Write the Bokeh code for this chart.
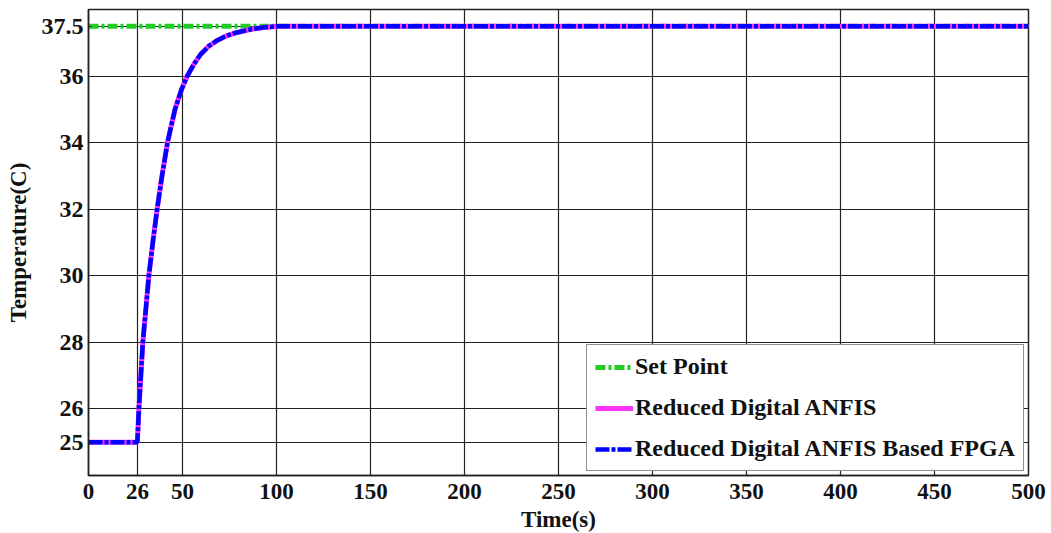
from bokeh.plotting import figure
from bokeh.models import Range1d, FixedTicker, Legend, LegendItem
from bokeh.embed import file_html
from bokeh.resources import INLINE

# ---- data ----
time_s = [0, 26, 26.8, 28.9, 32.1, 34.2, 36.5, 39.1, 42, 46, 49.5, 52.5, 56, 59.6, 64, 68.4, 73, 79, 86, 93, 101, 500]
temp_anfis = [25, 25, 26, 28, 30, 31, 32, 33, 34, 35, 35.6, 36, 36.35, 36.65, 36.9, 37.07, 37.2, 37.31, 37.4, 37.46, 37.5, 37.5]
temp_fpga = [25, 25, 26, 28, 30, 31, 32, 33, 34, 35, 35.6, 36, 36.35, 36.65, 36.9, 37.07, 37.2, 37.31, 37.4, 37.46, 37.5, 37.5]
setpoint_t = [0, 500]
setpoint_v = [37.5, 37.5]

x_ticks = [0, 26, 50, 100, 150, 200, 250, 300, 350, 400, 450, 500]
y_ticks = [25, 26, 28, 30, 32, 34, 36, 37.5]
y_tick_labels = ["25", "26", "28", "30", "32", "34", "36", "37.5"]
x_tick_labels = [str(v) for v in x_ticks]
x_title = "Time(s)"
y_title = "Temperature(C)"

FONT = "Liberation Serif"

p = figure(frame_width=940, frame_height=466, output_backend="svg", toolbar_location=None,
           x_range=Range1d(0, 500), y_range=Range1d(24, 38))
p.min_border_left = 88
p.min_border_right = 23
p.min_border_top = 9
p.min_border_bottom = 58
p.background_fill_color = "white"
p.border_fill_color = "white"
p.outline_line_color = "#222222"
p.outline_line_width = 1.5

for ax, ticks, labels in ((p.xaxis[0], x_ticks, x_tick_labels), (p.yaxis[0], y_ticks, y_tick_labels)):
    ax.ticker = FixedTicker(ticks=ticks)
    ax.major_label_overrides = {t: l for t, l in zip(ticks, labels)}
    ax.major_label_text_font = FONT
    ax.major_label_text_font_style = "bold"
    ax.major_label_text_font_size = "23px"
    ax.major_label_text_color = "#111111"
    ax.axis_label_text_font = FONT
    ax.axis_label_text_font_style = "bold"
    ax.axis_label_text_font_size = "23px"
    ax.axis_label_text_color = "#111111"
    ax.axis_line_color = "#222222"
    ax.axis_line_width = 1.5
    ax.major_tick_in = 3
    ax.major_tick_out = 0
    ax.minor_tick_line_color = None
    ax.major_tick_line_color = "#222222"

p.yaxis[0].major_label_text_font_size = "24px"
p.xaxis[0].axis_label = x_title
p.yaxis[0].axis_label = y_title
p.xaxis[0].major_label_standoff = 8
p.yaxis[0].major_label_standoff = 5
p.xaxis[0].axis_label_standoff = 5
p.yaxis[0].axis_label_standoff = 8

p.xgrid[0].ticker = FixedTicker(ticks=x_ticks)
p.ygrid[0].ticker = FixedTicker(ticks=y_ticks)
for g in (p.xgrid[0], p.ygrid[0]):
    g.grid_line_color = "#222222"
    g.grid_line_width = 1.2
    g.grid_line_alpha = 1.0

r_set = p.line(setpoint_t, setpoint_v, line_color="#22cc22", line_width=5, line_dash="10 3 3 3")
r_anfis = p.line(time_s, temp_anfis, line_color="#ff33ff", line_width=5)
r_fpga = p.line(time_s, temp_fpga, line_color="#0000ff", line_width=4.5, line_dash="14 2 4 2")

legend = Legend(items=[
    LegendItem(label="Set Point", renderers=[r_set]),
    LegendItem(label="Reduced Digital ANFIS", renderers=[r_anfis]),
    LegendItem(label="Reduced Digital ANFIS Based FPGA", renderers=[r_fpga]),
], location="bottom_right")
legend.label_text_font = FONT
legend.label_text_font_style = "bold"
legend.label_text_font_size = "24px"
legend.label_text_color = "#111111"
legend.glyph_width = 38
legend.glyph_height = 24
legend.label_height = 24
legend.label_standoff = 2
legend.spacing = 14
legend.padding = 8
legend.margin = 4
legend.border_line_color = "#222222"
legend.border_line_width = 1.5
legend.background_fill_alpha = 1.0
p.add_layout(legend)

open("out.html", "w").write(file_html(p, INLINE))
